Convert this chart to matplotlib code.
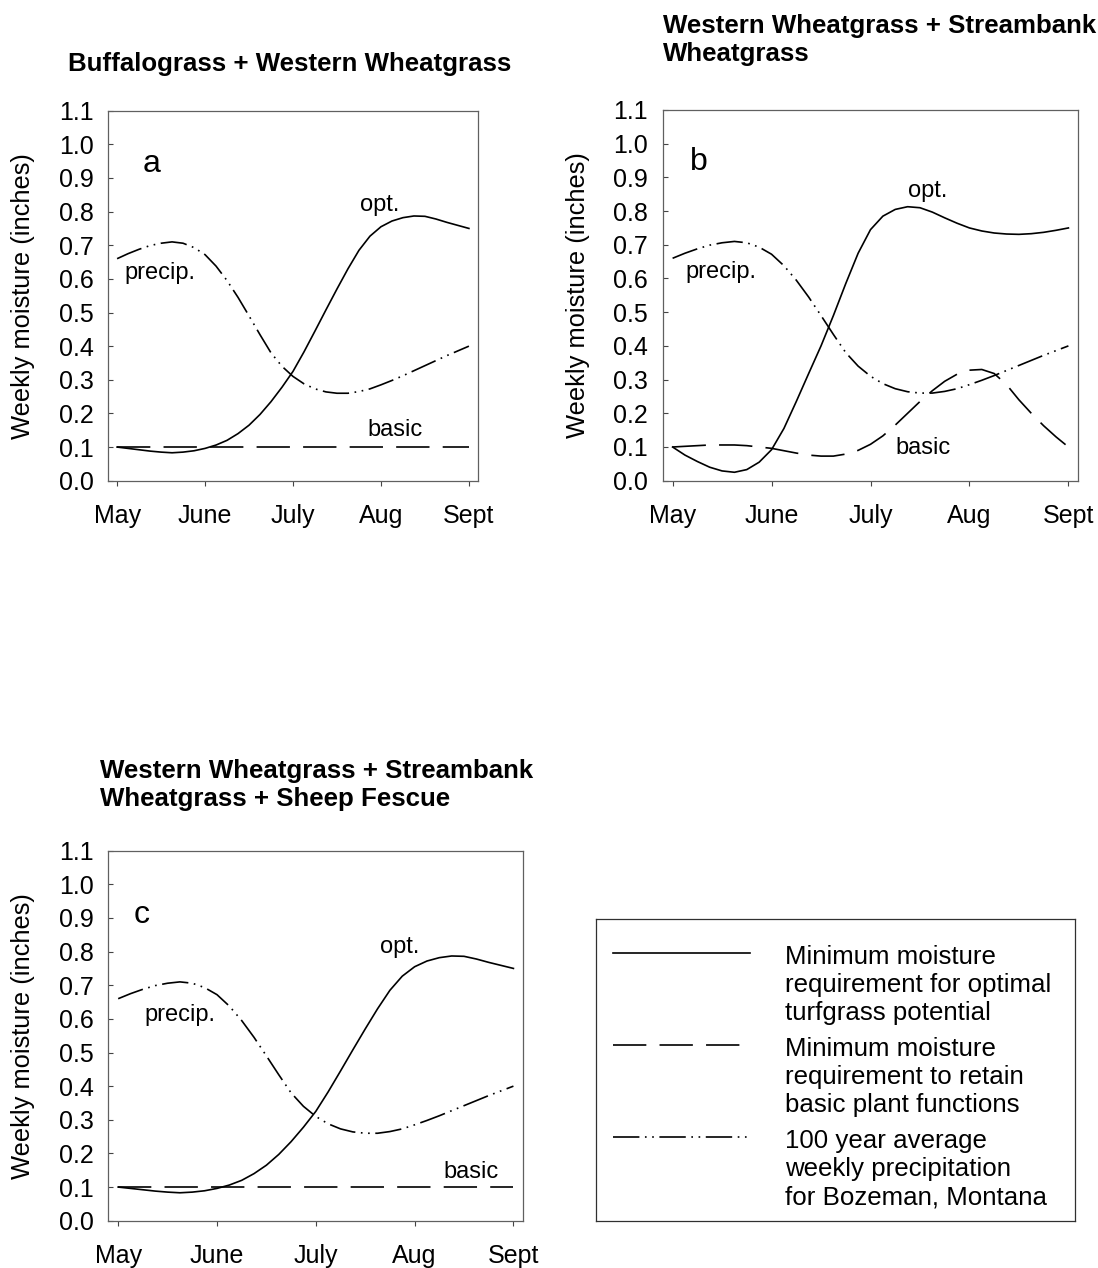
import matplotlib
matplotlib.use('Agg')
import matplotlib.pyplot as plt

plt.rcParams['font.family'] = ['Liberation Sans', 'DejaVu Sans']
plt.rcParams['lines.scale_dashes'] = False

W, H = 1098, 1268

months = ['May', 'June', 'July', 'Aug', 'Sept']
month_pos = [0, 1, 2, 3, 4]
yticks = [0.0, 0.1, 0.2, 0.3, 0.4, 0.5, 0.6, 0.7, 0.8, 0.9, 1.0, 1.1]

# readings every eighth of a month, May 1 .. Sept 1
weeks = [0, 0.125, 0.25, 0.375, 0.5, 0.625, 0.75, 0.875,
         1.0, 1.125, 1.25, 1.375, 1.5, 1.625, 1.75, 1.875,
         2.0, 2.125, 2.25, 2.375, 2.5, 2.625, 2.75, 2.875,
         3.0, 3.125, 3.25, 3.375, 3.5, 3.625, 3.75, 3.875, 4.0]

# 100 year average weekly precipitation (same in every panel)
precip = [0.66, 0.675, 0.688, 0.699, 0.706, 0.71, 0.706, 0.693,
          0.672, 0.638, 0.595, 0.545, 0.49, 0.434, 0.38, 0.34,
          0.31, 0.288, 0.273, 0.264, 0.26, 0.26, 0.265, 0.273,
          0.285, 0.298, 0.312, 0.327, 0.342, 0.357, 0.372, 0.386, 0.40]

# buffalograss + western wheatgrass (also used for panel c)
opt_a = [0.100, 0.096, 0.092, 0.088, 0.085, 0.083, 0.085, 0.089,
         0.096, 0.106, 0.12, 0.14, 0.165, 0.197, 0.235, 0.278,
         0.325, 0.383, 0.445, 0.508, 0.57, 0.63, 0.685, 0.727,
         0.755, 0.772, 0.782, 0.787, 0.786, 0.778, 0.768, 0.759, 0.75]
basic_a_x = [0, 4]
basic_a = [0.10, 0.10]

# western + streambank wheatgrass
opt_b = [0.100, 0.076, 0.057, 0.040, 0.029, 0.025, 0.033, 0.055,
         0.092, 0.155, 0.235, 0.318, 0.40, 0.49, 0.585, 0.675,
         0.745, 0.785, 0.805, 0.813, 0.81, 0.797, 0.78, 0.764,
         0.75, 0.741, 0.735, 0.732, 0.731, 0.733, 0.737, 0.743, 0.75]
basic_b = [0.100, 0.102, 0.104, 0.106, 0.106, 0.106, 0.104, 0.100,
           0.096, 0.089, 0.082, 0.076, 0.073, 0.073, 0.079, 0.09,
           0.108, 0.133, 0.165, 0.2, 0.235, 0.267, 0.295, 0.316,
           0.328, 0.33, 0.318, 0.285, 0.24, 0.2, 0.163, 0.13, 0.10]

titles = ['Buffalograss + Western Wheatgrass',
          'Western Wheatgrass + Streambank\nWheatgrass',
          'Western Wheatgrass + Streambank\nWheatgrass + Sheep Fescue']

legend_labels = ['Minimum moisture\nrequirement for optimal\nturfgrass potential',
                 'Minimum moisture\nrequirement to retain\nbasic plant functions',
                 '100 year average\nweekly precipitation\nfor Bozeman, Montana']

SOLID = '-'
DASHED = (0, (24, 9.5))
PRECIP = (0, (19, 4, 1.2, 4, 1.2, 4))
LW = 1.2


def frac(x, y):
    return x / W, 1 - y / H


def setup(ax):
    ax.set_xlim(-0.1, 4.1)
    ax.set_ylim(0, 1.1)
    ax.set_xticks(month_pos)
    ax.set_xticklabels(months)
    ax.set_yticks(yticks)
    ax.set_yticklabels(['%.1f' % v for v in yticks])
    ax.tick_params(axis='x', direction='out', length=3.6, width=0.8, pad=13.5,
                   labelsize=18, color='#444444')
    ax.tick_params(axis='y', direction='in', length=3.6, width=0.8, pad=10.5,
                   labelsize=18, color='#444444')
    ax.set_ylabel('Weekly moisture (inches)', fontsize=18.4, labelpad=17)
    for s in ax.spines.values():
        s.set_color('#606060')
        s.set_linewidth(0.9)


def draw(ax, opt, bx, basic, letter, notes):
    ax.plot(weeks, opt, color='black', lw=LW, ls=SOLID)
    ax.plot(bx, basic, color='black', lw=LW, ls=DASHED)
    ax.plot(weeks, precip, color='black', lw=LW, ls=PRECIP)
    ax.text(letter[1], letter[2], letter[0], fontsize=23, ha='center', va='center')
    for s, x, y in notes:
        ax.text(x, y, s, fontsize=17, ha='center', va='center')


fig = plt.figure(figsize=(W / 100, H / 100), dpi=100)

ax_a = fig.add_axes([108.3 / W, 1 - 480.7 / H, 369.4 / W, 370 / H])
ax_b = fig.add_axes([662.7 / W, 1 - 480.7 / H, 415.6 / W, 370.7 / H])
ax_c = fig.add_axes([108.3 / W, 1 - 1220.7 / H, 415 / W, 370 / H])

for ax in (ax_a, ax_b, ax_c):
    setup(ax)

draw(ax_a, opt_a, basic_a_x, basic_a, ('a', 0.39, 0.943),
     [('opt.', 2.99, 0.82), ('precip.', 0.49, 0.618), ('basic', 3.16, 0.151)])
draw(ax_b, opt_b, weeks, basic_b, ('b', 0.27, 0.946),
     [('opt.', 2.58, 0.859), ('precip.', 0.49, 0.619), ('basic', 2.53, 0.098)])
draw(ax_c, opt_a, basic_a_x, basic_a, ('c', 0.24, 0.909),
     [('opt.', 2.85, 0.815), ('precip.', 0.63, 0.611), ('basic', 3.57, 0.146)])

# panel headings
fig.text(*frac(290, 52.4), titles[0], ha='center', va='top', fontsize=18.6,
         fontweight='bold')
fig.text(*frac(663, 14.4), titles[1], ha='left', va='top', fontsize=18.6,
         fontweight='bold')
fig.text(*frac(100, 759.4), titles[2], ha='left', va='top', fontsize=18.6,
         fontweight='bold')

# key box
lax = fig.add_axes([596 / W, 1 - 1221 / H, 479 / W, 302 / H])
lax.set_xlim(0, 1)
lax.set_ylim(0, 1)
lax.set_xticks([])
lax.set_yticks([])
for s in lax.spines.values():
    s.set_color('#303030')
    s.set_linewidth(0.9)

styles = [SOLID, DASHED, PRECIP]
handle_y = [0.887, 0.583, 0.2765]
text_top = [0.914, 0.609, 0.3033]
for st, hy, ty, lab in zip(styles, handle_y, text_top, legend_labels):
    lax.plot([0.0355, 0.3215], [hy, hy], color='black', lw=LW, ls=st)
    lax.text(0.3946, ty, lab, ha='left', va='top', fontsize=18.6)

fig.savefig('out.png', dpi=100)
